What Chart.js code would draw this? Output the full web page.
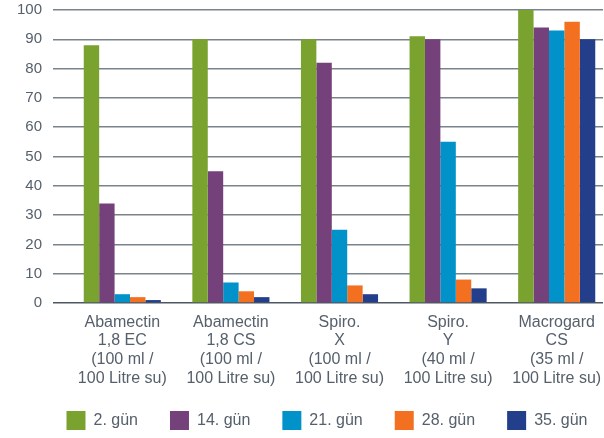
<!DOCTYPE html>
<html>
<head>
<meta charset="utf-8">
<script src="https://cdn.jsdelivr.net/npm/chart.js@4"></script>
<style>
  body { margin: 0; background: #fff; }
  #wrap { width: 604px; height: 438px; }
</style>
</head>
<body>
<div id="wrap"><canvas id="chart"></canvas></div>
<script>
// Kategoriler (çok satırlı etiketler)
const categories = [
    ['Abamectin', '1,8 EC', '(100 ml /', '100 Litre su)'],
    ['Abamectin', '1,8 CS', '(100 ml /', '100 Litre su)'],
    ['Spiro.', 'X', '(100 ml /', '100 Litre su)'],
    ['Spiro.', 'Y', '(40 ml /', '100 Litre su)'],
    ['Macrogard', 'CS', '(35 ml /', '100 Litre su)']
];

const seriesNames = ['2. gün', '14. gün', '21. gün', '28. gün', '35. gün'];

const gun2 = [88, 90, 90, 91, 100];
const gun14 = [34, 45, 82, 90, 94];
const gun21 = [3, 7, 25, 55, 93];
const gun28 = [2, 4, 6, 8, 96];
const gun35 = [1, 2, 3, 5, 90];

const colors = ['#7aa22f', '#74417a', '#0092c8', '#f37021', '#233e8b'];
const allValues = [gun2, gun14, gun21, gun28, gun35];

const datasets = allValues.map((vals, i) => ({
    label: seriesNames[i],
    data: vals,
    backgroundColor: colors[i],
    borderWidth: 0,
    categoryPercentage: 0.71,
    barPercentage: 1.0
}));

// Kategori ekseni ızgaradan biraz sağa kaymış; lejant grafik alanına göre ortalı
const layoutTweak = {
    id: 'layoutTweak',
    afterLayout(chart) {
        const area = chart.chartArea;
        const x = chart.scales.x;
        x.left = area.left + 15;
        x.right = area.right + 8;
        x.bottom = x.bottom + 14;
        x.configure();
        const lg = chart.legend;
        if (lg) {
            const shift = (area.left + area.right) / 2 - (lg.left + lg.right) / 2 - 1;
            lg.left += shift;
            lg.right += shift;
        }
    }
};

const ctx = document.getElementById('chart').getContext('2d');
new Chart(ctx, {
    type: 'bar',
    data: { labels: categories, datasets: datasets },
    plugins: [layoutTweak],
    options: {
        responsive: true,
        maintainAspectRatio: false,
        animation: false,
        layout: { padding: { top: 0, right: 1, left: 0, bottom: -2 } },
        plugins: {
            tooltip: { enabled: false },
            legend: {
                position: 'bottom',
                labels: {
                    boxWidth: 19,
                    boxHeight: 19,
                    padding: 32,
                    color: '#56606b',
                    font: { family: 'Liberation Sans', size: 16 }
                }
            }
        },
        scales: {
            x: {
                afterFit: function(scale) { scale.height = 76; },
                grid: { display: false },
                border: { display: false },
                ticks: {
                    color: '#56606b',
                    padding: 2,
                    maxRotation: 0,
                    autoSkip: false,
                    font: { family: 'Liberation Sans', size: 16, lineHeight: 1.17 }
                }
            },
            y: {
                min: 0,
                max: 100,
                afterFit: function(scale) {
                    scale.width = 53;
                    scale.paddingTop = 10;
                    scale.paddingBottom = 0;
                },
                border: { display: false },
                grid: {
                    color: ctx => ctx.tick && ctx.tick.value === 0 ? '#4d5863' : '#79838c',
                    lineWidth: 1.5,
                    drawTicks: false
                },
                ticks: {
                    stepSize: 10,
                    color: '#56606b',
                    padding: 11,
                    font: { family: 'Liberation Sans', size: 15 }
                }
            }
        }
    }
});
</script>
</body>
</html>
